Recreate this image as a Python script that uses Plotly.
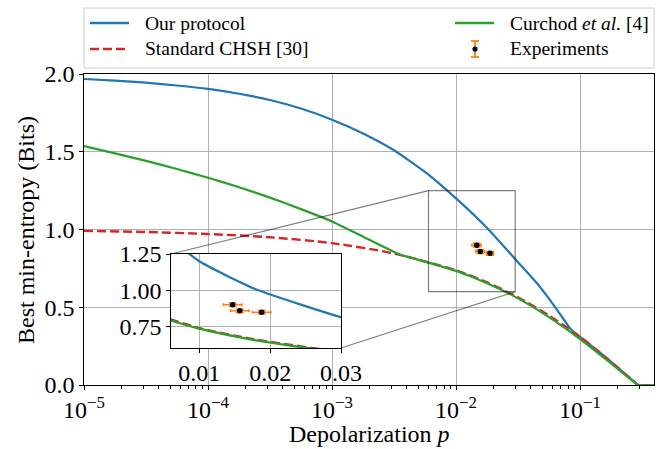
import math
import plotly.graph_objects as go

# ---------------- data ----------------
p_our = [1e-5, 1.78e-5, 3.16e-5, 5.62e-5, 1e-4, 1.78e-4, 3.16e-4, 5.62e-4, 1e-3, 1.78e-3,
         3.16e-3, 5.62e-3, 1e-2, 1.78e-2, 3.16e-2, 4.6e-2, 5.62e-2, 7e-2, 8.5e-2, 0.1, 0.15,
         0.2, 0.25, 0.28, 0.293, 0.4]
h_our = [1.968, 1.957, 1.944, 1.926, 1.904, 1.873, 1.833, 1.778, 1.706, 1.618,
         1.510, 1.370, 1.200, 1.010, 0.790, 0.645, 0.555, 0.450, 0.355, 0.309, 0.198,
         0.115, 0.048, 0.014, 0.0, 0.0]

p_chsh = [1e-5, 3.16e-5, 1e-4, 3.16e-4, 1e-3, 3.16e-3, 1e-2, 1.78e-2, 3.16e-2, 5.62e-2,
          0.1, 0.15, 0.2, 0.25, 0.28, 0.293, 0.4]
h_chsh = [0.991, 0.984, 0.971, 0.950, 0.912, 0.846, 0.738, 0.660, 0.564, 0.447,
          0.310, 0.198, 0.114, 0.047, 0.013, 0.0, 0.0]

p_cur = [1e-5, 1.78e-5, 3.16e-5, 5.62e-5, 1e-4, 1.78e-4, 3.16e-4, 5.62e-4, 1e-3, 1.8e-3,
         3.55e-3, 5e-3, 1e-2, 1.78e-2, 3.16e-2, 5.62e-2, 0.1, 0.15, 0.2, 0.25, 0.28,
         0.293, 0.4]
h_cur = [1.537, 1.490, 1.441, 1.389, 1.333, 1.272, 1.205, 1.131, 1.052, 0.952,
         0.838, 0.805, 0.734, 0.655, 0.557, 0.436, 0.295, 0.186, 0.106, 0.042, 0.011,
         0.0, 0.0]

p_exp = [0.0147, 0.0157, 0.0188]
h_exp = [0.899, 0.858, 0.847]
p_exp_err = [0.0013, 0.0013, 0.0013]
h_exp_err = [0.012, 0.012, 0.012]

x_tick_vals = [1e-5, 1e-4, 1e-3, 1e-2, 1e-1]
x_tick_text = ["10<sup>−5</sup>", "10<sup>−4</sup>", "10<sup>−3</sup>", "10<sup>−2</sup>", "10<sup>−1</sup>"]
y_tick_vals = [0.0, 0.5, 1.0, 1.5, 2.0]
y_tick_text = ["0.0", "0.5", "1.0", "1.5", "2.0"]
inset_x_ticks = [0.01, 0.02, 0.03]
inset_x_text = ["0.01", "0.02", "0.03"]
inset_y_ticks = [0.75, 1.00, 1.25]
inset_y_text = ["0.75", "1.00", "1.25"]

labels = ["Our protocol", "Standard CHSH [30]", "Curchod <i>et al.</i> [4]", "Experiments"]

# ---------------- layout constants ----------------
W, H = 665, 449
L, R, T, B = 84, 11, 74, 64
PW, PH = W - L - R, H - T - B
X_MIN, X_MAX = -5.0, math.log10(0.395)
Y_MIN, Y_MAX = 0.0, 2.0
INSET_X = [0.006, 0.03]
INSET_Y = [0.6, 1.25]

BLUE, RED, GREEN, ORANGE = "#1f77b4", "#d62728", "#2ca02c", "#ff7f0e"
FONT = "Liberation Serif"
GRID = "#b0b0b0"
DASH = "9px,4px"


def px(x, y):
    """pixel -> paper coordinates"""
    return (x - L) / PW, (H - B - y) / PH


ix0, iy0 = px(171, 348)
ix1, iy1 = px(341, 254)

fig = go.Figure()

for xa, ya in (("x", "y"), ("x2", "y2")):
    fig.add_trace(go.Scatter(x=p_our, y=h_our, mode="lines", xaxis=xa, yaxis=ya,
                             line=dict(color=BLUE, width=2.2, shape="spline", smoothing=0.5),
                             showlegend=False))
    fig.add_trace(go.Scatter(x=p_chsh, y=h_chsh, mode="lines", xaxis=xa, yaxis=ya,
                             line=dict(color=RED, width=2.4, dash=DASH, shape="spline",
                                       smoothing=0.7),
                             showlegend=False))
    fig.add_trace(go.Scatter(x=p_cur, y=h_cur, mode="lines", xaxis=xa, yaxis=ya,
                             line=dict(color=GREEN, width=2.2, shape="spline", smoothing=0.5),
                             showlegend=False))
    fig.add_trace(go.Scatter(x=p_exp, y=h_exp, mode="markers", xaxis=xa, yaxis=ya,
                             marker=dict(color="black", size=5.5),
                             error_x=dict(type="data", array=p_exp_err, color=ORANGE,
                                          thickness=1.5, width=1.5),
                             error_y=dict(type="data", array=h_exp_err, color=ORANGE,
                                          thickness=1.5, width=4),
                             showlegend=False))

axis_common = dict(showline=True, linecolor="black", linewidth=1.3, mirror=True,
                   ticks="outside", ticklen=3.5, tickwidth=1, tickcolor="black",
                   showgrid=True, gridcolor=GRID, gridwidth=1, zeroline=False)

minor_vals = [k * 10 ** e for e in range(-5, 0) for k in range(2, 10)]

fig.update_layout(
    width=W, height=H,
    margin=dict(l=L, r=R, t=T, b=B, autoexpand=False),
    paper_bgcolor="white", plot_bgcolor="white",
    font=dict(family=FONT, size=24, color="black"),
    showlegend=False,
    xaxis=dict(type="log", range=[X_MIN, X_MAX], tickmode="array",
               tickvals=x_tick_vals, ticktext=x_tick_text, domain=[0, 1],
               minor=dict(tickmode="array", tickvals=minor_vals, ticks="outside",
                          ticklen=2.5, tickcolor="black", showgrid=False),
               **axis_common),
    yaxis=dict(range=[Y_MIN, Y_MAX], tickmode="array", tickvals=y_tick_vals,
               ticktext=y_tick_text, domain=[0, 1], **axis_common),
    xaxis2=dict(range=INSET_X, tickmode="array", tickvals=inset_x_ticks,
                ticktext=inset_x_text, domain=[ix0, ix1], anchor="y2", **axis_common),
    yaxis2=dict(range=INSET_Y, tickmode="array", tickvals=inset_y_ticks,
                ticktext=inset_y_text, domain=[iy0, iy1], anchor="x2", **axis_common),
)

# zoom rectangle + connectors
span_x = X_MAX - X_MIN


def main_paper(p, h):
    return (math.log10(p) - X_MIN) / span_x, (h - Y_MIN) / (Y_MAX - Y_MIN)


rx0, ry1 = main_paper(INSET_X[0], INSET_Y[1])
rx1, ry0 = main_paper(INSET_X[1], INSET_Y[0])
CONN = "rgba(0,0,0,0.5)"
fig.add_shape(type="rect", xref="paper", yref="paper", x0=rx0, x1=rx1, y0=ry0, y1=ry1,
              line=dict(color=CONN, width=1.2), layer="above")
fig.add_shape(type="line", xref="paper", yref="paper", x0=rx0, y0=ry1, x1=ix0, y1=iy1,
              line=dict(color=CONN, width=1.2), layer="above")
fig.add_shape(type="line", xref="paper", yref="paper", x0=rx1, y0=ry0, x1=ix1, y1=iy0,
              line=dict(color=CONN, width=1.2), layer="above")

# ---------------- manual legend ----------------
bx0, by0 = px(84, 68)
bx1, by1 = px(654, 8)
fig.add_shape(type="rect", xref="paper", yref="paper", x0=bx0, x1=bx1, y0=by0, y1=by1,
              line=dict(color="#cccccc", width=1), fillcolor="white", layer="above")

rows = [23, 49]
items = [(0, 0, BLUE, "solid"), (0, 1, RED, DASH), (1, 0, GREEN, "solid")]
col_line = [(90, 129), (455, 494)]
col_text = [143, 508]
for col, row, color, dash in items:
    x0, y0 = px(col_line[col][0], rows[row])
    x1, _ = px(col_line[col][1], rows[row])
    fig.add_shape(type="line", xref="paper", yref="paper", x0=x0, x1=x1, y0=y0, y1=y0,
                  line=dict(color=color, width=2.4, dash=dash), layer="above")
# experiments icon
ex, _ = px(475, 0)
_, ey0 = px(0, 57)
_, ey1 = px(0, 41)
exl, _ = px(471, 0)
exr, _ = px(479, 0)
fig.add_shape(type="line", xref="paper", yref="paper", x0=ex, x1=ex, y0=ey0, y1=ey1,
              line=dict(color=ORANGE, width=1.8), layer="above")
for yy in (ey0, ey1):
    fig.add_shape(type="line", xref="paper", yref="paper", x0=exl, x1=exr, y0=yy, y1=yy,
                  line=dict(color=ORANGE, width=1.8), layer="above")
_, ecy = px(0, 49)
dx, dy = 2.6 / PW, 2.6 / PH
fig.add_shape(type="circle", xref="paper", yref="paper", x0=ex - dx, x1=ex + dx,
              y0=ecy - dy, y1=ecy + dy, fillcolor="black", line=dict(width=0), layer="above")

legend_pos = [(0, 0), (0, 1), (1, 0), (1, 1)]
for lab, (col, row) in zip(labels, legend_pos):
    tx, ty = px(col_text[col], rows[row])
    fig.add_annotation(x=tx, y=ty, xref="paper", yref="paper", text=lab, showarrow=False,
                       xanchor="left", yanchor="middle", font=dict(size=19.5))

# axis titles
tx, ty = px(369, 434)
fig.add_annotation(x=tx, y=ty, xref="paper", yref="paper", text="Depolarization <i>p</i>",
                   showarrow=False, xanchor="center", yanchor="middle", font=dict(size=24))
tx, ty = px(26, 230)
fig.add_annotation(x=tx, y=ty, xref="paper", yref="paper", text="Best min-entropy (Bits)",
                   showarrow=False, xanchor="center", yanchor="middle", textangle=-90,
                   font=dict(size=24))

fig.write_html("out.html", config={"displayModeBar": False},
               post_script="document.body.style.margin='0';document.body.style.padding='0';")
